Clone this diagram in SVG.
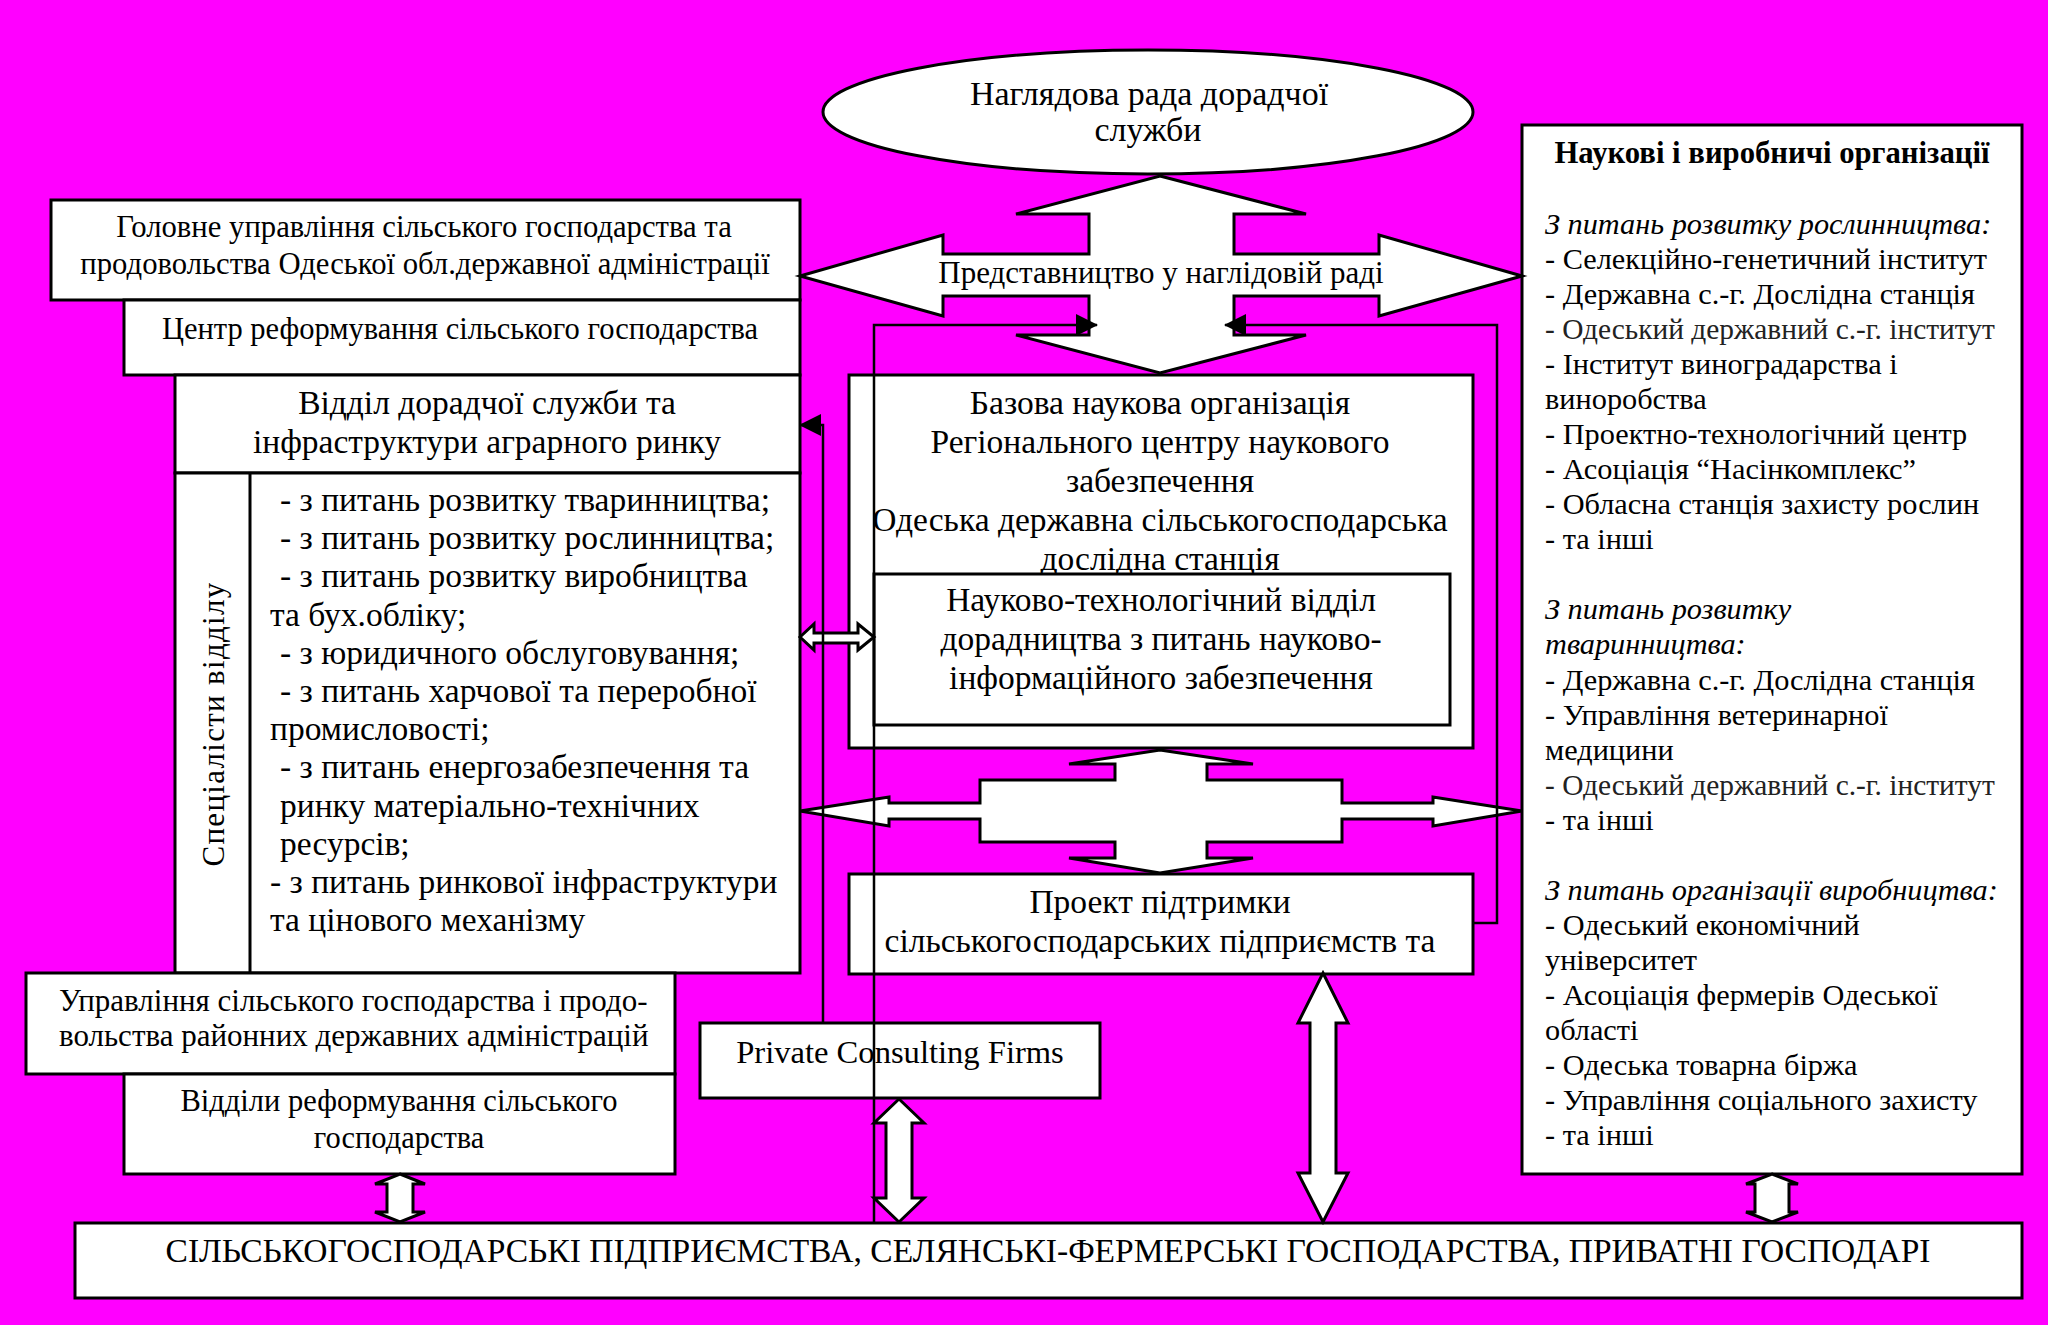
<svg xmlns="http://www.w3.org/2000/svg" width="2048" height="1325" viewBox="0 0 2048 1325">
<defs>
<style>
.bg{fill:#FF00FF}
.box{fill:#fff;stroke:#000;stroke-width:3}
.t{font-family:"Liberation Serif","Times New Roman",serif;font-size:31px;fill:#000}
.a{font-size:30.7px}
.e{font-size:34px}
.n{font-size:30.5px}
.m{font-size:33.5px}
.p{font-size:32.6px}
.s{font-size:30.3px}
.l{font-size:29.4px;fill:#222}
.c{text-anchor:middle}
.b{font-weight:bold;font-size:30.7px}
.i{font-style:italic}
.blk{fill:#fff;stroke:#000;stroke-width:3;stroke-linejoin:miter}
.ln{fill:none;stroke:#000;stroke-width:2.5}
</style>
<marker id="ah" markerUnits="userSpaceOnUse" markerWidth="22" markerHeight="22" viewBox="0 0 22 22" refX="21" refY="11" orient="auto">
<path d="M0,0 L22,11 L0,22 z" fill="#000"/>
</marker>
</defs>
<rect class="bg" x="0" y="0" width="2048" height="1325"/>

<g id="node-supervisory-board">
<ellipse class="box" cx="1148" cy="112" rx="325" ry="62"/>
<text class="t e c" x="1149" y="105">Наглядова рада дорадчої</text>
<text class="t e c" x="1148" y="141">служби</text>
</g>

<g id="node-main-department">
<rect class="box" x="51" y="200" width="749" height="100"/>
<text class="t a c" x="424" y="237">Головне управління сільського господарства та</text>
<text class="t a c" x="425" y="274">продовольства Одеської обл.державної адміністрації</text>
</g>

<g id="node-reform-center">
<rect class="box" x="124" y="300" width="676" height="75"/>
<text class="t n c" x="460" y="339">Центр реформування сільського господарства</text>
</g>

<g id="node-advisory-department">
<rect class="box" x="175" y="375" width="625" height="98"/>
<text class="t m c" x="487" y="414">Відділ дорадчої служби та</text>
<text class="t m c" x="487" y="453">інфраструктури аграрного ринку</text>
</g>

<g id="node-specialists">
<rect class="box" x="175" y="473" width="625" height="500"/>
<line x1="250" y1="473" x2="250" y2="973" stroke="#000" stroke-width="3"/>
<text class="t c" transform="translate(224,724) rotate(-90)" x="0" y="0" letter-spacing="1.3">Спеціалісти відділу</text>
<text class="t m" x="280" y="511">- з питань розвитку тваринництва;</text>
<text class="t m" x="280" y="549">- з питань розвитку рослинництва;</text>
<text class="t m" x="280" y="587">- з питань розвитку виробництва</text>
<text class="t m" x="270" y="626">та бух.обліку;</text>
<text class="t m" x="280" y="664">- з юридичного обслуговування;</text>
<text class="t m" x="280" y="702">- з питань харчової та переробної</text>
<text class="t m" x="270" y="740">промисловості;</text>
<text class="t m" x="280" y="778">- з питань енергозабезпечення та</text>
<text class="t m" x="280" y="817">ринку матеріально-технічних</text>
<text class="t m" x="280" y="855">ресурсів;</text>
<text class="t m" x="270" y="893">- з питань ринкової інфраструктури</text>
<text class="t m" x="270" y="931">та цінового механізму</text>
</g>

<g id="node-district-administrations">
<rect class="box" x="26" y="973" width="649" height="101"/>
<text class="t" x="59" y="1011">Управління сільського господарства і продо-</text>
<text class="t" x="59" y="1046">вольства районних державних адміністрацій</text>
</g>

<g id="node-reform-departments">
<rect class="box" x="124" y="1074" width="551" height="100"/>
<text class="t n c" x="399" y="1111">Відділи реформування сільського</text>
<text class="t n c" x="399" y="1148">господарства</text>
</g>

<g id="node-base-research-org">
<rect class="box" x="849" y="375" width="624" height="373"/>
<text class="t m c" x="1160" y="414">Базова наукова організація</text>
<text class="t m c" x="1160" y="453">Регіонального центру наукового</text>
<text class="t m c" x="1160" y="492">забезпечення</text>
<text class="t m c" x="1160" y="531">Одеська державна сільськогосподарська</text>
<text class="t m c" x="1160" y="570">дослідна станція</text>
</g>

<g id="node-science-tech-department">
<rect class="box" x="874" y="574" width="576" height="151"/>
<text class="t m c" x="1161" y="611">Науково-технологічний відділ</text>
<text class="t m c" x="1161" y="650">дорадництва з питань науково-</text>
<text class="t m c" x="1161" y="689">інформаційного забезпечення</text>
</g>

<g id="node-support-project">
<rect class="box" x="849" y="874" width="624" height="100"/>
<text class="t m c" x="1160" y="913">Проект підтримки</text>
<text class="t m c" x="1160" y="952">сільськогосподарських підприємств та</text>
</g>

<g id="node-private-consulting">
<rect class="box" x="700" y="1023" width="400" height="75"/>
<text class="t p c" x="900" y="1063">Private Consulting Firms</text>
</g>

<g id="node-research-organizations">
<rect class="box" x="1522" y="125" width="500" height="1049"/>
<text class="t b c" x="1772" y="163">Наукові і виробничі організації</text>
<text class="t s i" x="1545" y="234">З питань розвитку рослинництва:</text>
<text class="t s" x="1545" y="269">- Селекційно-генетичний інститут</text>
<text class="t s" x="1545" y="304">- Державна с.-г. Дослідна станція</text>
<text class="t l" x="1545" y="339">- Одеський державний с.-г. інститут</text>
<text class="t s" x="1545" y="374">- Інститут виноградарства і</text>
<text class="t s" x="1545" y="409">виноробства</text>
<text class="t s" x="1545" y="444">- Проектно-технологічний центр</text>
<text class="t s" x="1545" y="479">- Асоціація “Насінкомплекс”</text>
<text class="t s" x="1545" y="514">- Обласна станція захисту рослин</text>
<text class="t s" x="1545" y="549">- та інші</text>
<text class="t s i" x="1545" y="619">З питань розвитку</text>
<text class="t s i" x="1545" y="654">тваринництва:</text>
<text class="t s" x="1545" y="690">- Державна с.-г. Дослідна станція</text>
<text class="t s" x="1545" y="725">- Управління ветеринарної</text>
<text class="t s" x="1545" y="760">медицини</text>
<text class="t l" x="1545" y="795">- Одеський державний с.-г. інститут</text>
<text class="t s" x="1545" y="830">- та інші</text>
<text class="t s i" x="1545" y="900">З питань організації виробництва:</text>
<text class="t s" x="1545" y="935">- Одеський економічний</text>
<text class="t s" x="1545" y="970">університет</text>
<text class="t s" x="1545" y="1005">- Асоціація фермерів Одеської</text>
<text class="t s" x="1545" y="1040">області</text>
<text class="t s" x="1545" y="1075">- Одеська товарна біржа</text>
<text class="t s" x="1545" y="1110">- Управління соціального захисту</text>
<text class="t s" x="1545" y="1145">- та інші</text>
</g>

<g id="node-farms">
<rect class="box" x="75" y="1223" width="1947" height="75"/>
<text class="t m c" x="1048" y="1262">СІЛЬСЬКОГОСПОДАРСЬКІ ПІДПРИЄМСТВА, СЕЛЯНСЬКІ-ФЕРМЕРСЬКІ ГОСПОДАРСТВА, ПРИВАТНІ ГОСПОДАРІ</text>
</g>

<g id="connectors">
<polygon class="blk" points="1160,176 1306,214 1234,214 1234,254 1379,254 1379,235 1522,276 1379,316 1379,296 1234,296 1234,335 1306,335 1160,373 1016,335 1089,335 1089,296 943,296 943,316 800,276 943,235 943,254 1089,254 1089,214 1016,214"/>
<text class="t c" x="1161" y="283">Представництво у наглідовій раді</text>
<polygon class="blk" points="1160,750 1253,764 1207,764 1207,780 1342,780 1342,803 1433,803 1433,797 1522,811 1433,826 1433,819 1342,819 1342,842 1207,842 1207,858 1253,858 1160,873 1069,858 1115,858 1115,842 980,842 980,819 889,819 889,826 800,811 889,797 889,803 980,803 980,780 1115,780 1115,764 1069,764"/>
<polygon class="blk" points="800,637 814,624 814,633 858,633 858,624 874,637 858,650 858,643 814,643 814,650"/>
<polygon class="blk" points="1323,973 1348,1023 1336,1023 1336,1173 1348,1173 1323,1222 1298,1173 1310,1173 1310,1023 1298,1023"/>
<polygon class="blk" points="899,1099 924,1123 912,1123 912,1198 924,1198 899,1222 874,1198 886,1198 886,1123 874,1123"/>
<polygon class="blk" points="400,1174 425,1184 413,1184 413,1212 425,1212 400,1222 375,1212 387,1212 387,1184 375,1184"/>
<polygon class="blk" points="1772,1174 1798,1184 1789,1184 1789,1212 1798,1212 1772,1222 1746,1212 1755,1212 1755,1184 1746,1184"/>
<path class="ln" d="M874,1223 V325 H1097" marker-end="url(#ah)"/>
<path class="ln" d="M1473,923 H1497 V325 H1225" marker-end="url(#ah)"/>
<path class="ln" d="M823,1022 V425 H800" marker-end="url(#ah)"/>
</g>
</svg>
